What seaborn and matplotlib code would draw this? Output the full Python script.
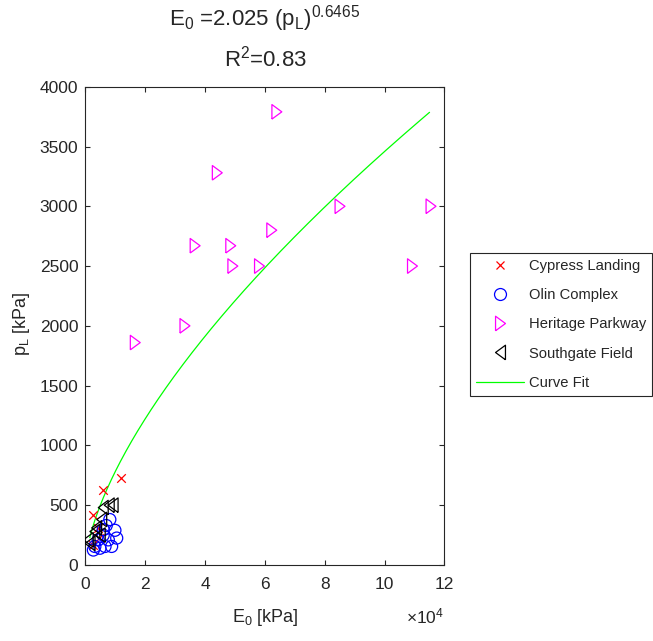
import numpy as np
import matplotlib
matplotlib.use("Agg")
import matplotlib.pyplot as plt
from matplotlib.lines import Line2D
from matplotlib.ticker import FuncFormatter, MultipleLocator
import seaborn as sns

# Pressuremeter data: modulus E0 [kPa] vs. limit pressure pL [kPa]
cypress_E = [11800, 5900, 2600, 4300, 2500, 4500]
cypress_p = [725, 630, 420, 310, 170, 225]

olin_E = [8200, 9900, 10500, 7700, 6000, 4300, 3200, 4900, 6600, 8800, 2700, 6000, 7000]
olin_p = [380, 290, 225, 210, 250, 210, 155, 140, 155, 155, 125, 295, 330]

heritage_E = [64000, 44100, 36700, 48600, 62300, 49300, 58200, 33300, 16700,
              85100, 115500, 109300]
heritage_p = [3790, 3280, 2670, 2670, 2800, 2500, 2500, 2000, 1860,
              3000, 3000, 2500]

southgate_E = [8000, 9300, 6000, 5500, 3800, 3200, 1000, 1600, 5000]
southgate_p = [500, 500, 480, 380, 310, 280, 210, 180, 250]

# Power-law fit  pL = a * E0^b
fit_a = 2.025
fit_b = 0.6465
fit_r2 = 0.83
fit_E_range = [1500, 115000]

INK = "#262626"

sns.set_theme(style="ticks")
plt.rcParams.update({
    "font.family": ["Liberation Sans", "DejaVu Sans"],
    "mathtext.fontset": "custom",
    "mathtext.rm": "Liberation Sans",
    "mathtext.it": "Liberation Sans:italic",
    "mathtext.default": "regular",
    "axes.edgecolor": INK,
    "axes.linewidth": 0.8,
    "xtick.color": INK,
    "ytick.color": INK,
    "text.color": INK,
})

fig = plt.figure(figsize=(6.53, 6.41), dpi=100)
ax = fig.add_axes([0.1306, 0.1186, 0.5501, 0.7461])

tri_right = [(-0.34, -0.5), (0.34, 0.0), (-0.34, 0.5), (-0.34, -0.5)]
tri_left = [(0.34, -0.5), (-0.34, 0.0), (0.34, 0.5), (0.34, -0.5)]

sns.scatterplot(x=cypress_E, y=cypress_p, marker="x", color="#ff0000",
                s=38, linewidth=0.9, ax=ax, zorder=3)
sns.scatterplot(x=olin_E, y=olin_p, marker="o", facecolor="none",
                edgecolor="#0000ff", s=75, linewidth=0.9, ax=ax, zorder=3)
sns.scatterplot(x=heritage_E, y=heritage_p, marker=tri_right, facecolor="none",
                edgecolor="#ff00ff", s=110, linewidth=0.9, ax=ax, zorder=3)
sns.scatterplot(x=southgate_E, y=southgate_p, marker=tri_left, facecolor="none",
                edgecolor="#000000", s=110, linewidth=0.9, ax=ax, zorder=3)

fit_E = np.linspace(fit_E_range[0], fit_E_range[1], 300)
fit_p = fit_a * fit_E ** fit_b
sns.lineplot(x=fit_E, y=fit_p, color="#00ff00", linewidth=0.9, ax=ax,
             sort=False, zorder=2)

ax.set_xlim(0, 120000)
ax.set_ylim(0, 4000)
ax.xaxis.set_major_locator(MultipleLocator(20000))
ax.yaxis.set_major_locator(MultipleLocator(500))
ax.xaxis.set_major_formatter(FuncFormatter(lambda v, _: f"{v / 1e4:g}"))
ax.tick_params(direction="in", top=True, right=True, length=3.6, width=0.8,
               labelsize=12.5)
ax.tick_params(axis="x", pad=9)
ax.tick_params(axis="y", pad=5)
for sp in ax.spines.values():
    sp.set_visible(True)
    sp.set_color(INK)

ax.set_xlabel("E$_0$ [kPa]", fontsize=13)
ax.set_ylabel("p$_L$ [kPa]", fontsize=13)
ax.xaxis.set_label_coords(0.5, -0.088)
ax.xaxis.label.set_va("top")
ax.yaxis.set_label_coords(-0.148, 0.505)

fig.text(0.6807, 0.028, "×10$^4$", ha="right", va="baseline", fontsize=12.5)

fig.text(0.4058, 0.971, f"E$_0$ =2.025 (p$_L$)$^{{{fit_b}}}$",
         ha="center", va="center", fontsize=16)
fig.text(0.4058, 0.909, f"R$^2$={fit_r2}", ha="center", va="center",
         fontsize=16)

handles = [
    Line2D([], [], linestyle="none", marker="x", color="#ff0000",
           markersize=6.2, markeredgewidth=0.9),
    Line2D([], [], linestyle="none", marker="o", markerfacecolor="none",
           markeredgecolor="#0000ff", markersize=8.6, markeredgewidth=0.9),
    Line2D([], [], linestyle="none", marker=tri_right, markerfacecolor="none",
           markeredgecolor="#ff00ff", markersize=10.5, markeredgewidth=0.9),
    Line2D([], [], linestyle="none", marker=tri_left, markerfacecolor="none",
           markeredgecolor="#000000", markersize=10.5, markeredgewidth=0.9),
    Line2D([], [], color="#00ff00", linewidth=0.9),
]
labels = ["Cypress Landing", "Olin Complex", "Heritage Parkway",
          "Southgate Field", "Curve Fit"]
leg = fig.legend(handles, labels, loc="center left",
                 bbox_to_anchor=(0.72, 0.4938), fontsize=10.6,
                 frameon=True, fancybox=False, framealpha=1,
                 edgecolor=INK, handlelength=3.25, handletextpad=0.36,
                 labelspacing=1.03, borderpad=0.4, borderaxespad=0)
leg.get_frame().set_linewidth(0.8)

fig.savefig("out.png", dpi=100)
